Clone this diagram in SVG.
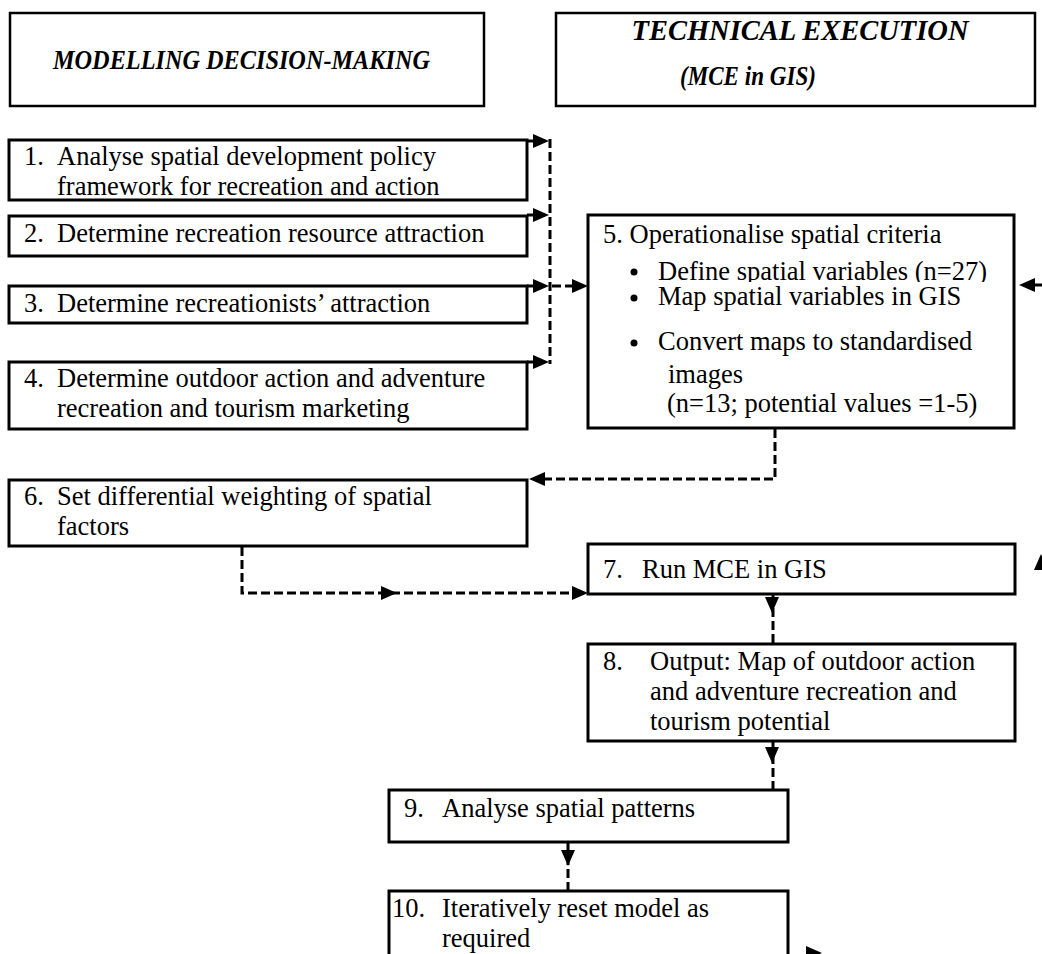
<svg xmlns="http://www.w3.org/2000/svg" xmlns:xlink="http://www.w3.org/1999/xlink" width="1042" height="954" viewBox="0 0 1042 954">
<style>
.box{fill:#fff;stroke:#000;stroke-width:3}
.hbox{fill:#fff;stroke:#000;stroke-width:2.5}
.h{font-family:"Liberation Serif","Times New Roman",serif;font-weight:bold;font-style:italic;font-size:28px;fill:#000}
.t{font-family:"Liberation Serif","Times New Roman",serif;font-size:26.5px;fill:#000}
.solid{fill:none;stroke:#000;stroke-width:3}
.dash{fill:none;stroke:#000;stroke-width:3;stroke-dasharray:9 4}
</style>
<defs>
<path id="ah" d="M0,0 L-16,-7 L-16,7 Z"/>
<clipPath id="clip5"><rect x="590" y="255" width="420" height="27"/></clipPath>
</defs>
<rect width="1042" height="954" fill="#fff"/>

<g id="header-left">
<rect class="hbox" x="10" y="13" width="474" height="93"/>
<text class="h" x="53" y="69" textLength="377" lengthAdjust="spacingAndGlyphs">MODELLING DECISION-MAKING</text>
</g>
<g id="header-right">
<rect class="hbox" x="556" y="13" width="479" height="93"/>
<text class="h" x="800" y="40" text-anchor="middle" style="font-size:28.5px">TECHNICAL EXECUTION</text>
<text class="h" x="680" y="85" textLength="136" lengthAdjust="spacingAndGlyphs">(MCE in GIS)</text>
</g>

<g id="node1">
<rect class="box" x="9" y="140" width="518" height="60"/>
<text class="t" x="24" y="165">1.</text>
<text class="t" x="57" y="165">Analyse spatial development policy</text>
<text class="t" x="57" y="195">framework for recreation and action</text>
</g>
<g id="node2">
<rect class="box" x="9" y="216" width="518" height="40"/>
<text class="t" x="24" y="242">2.</text>
<text class="t" x="57" y="242">Determine recreation resource attraction</text>
</g>
<g id="node3">
<rect class="box" x="9" y="286" width="518" height="37"/>
<text class="t" x="24" y="312">3.</text>
<text class="t" x="57" y="312">Determine recreationists’ attraction</text>
</g>
<g id="node4">
<rect class="box" x="9" y="362" width="518" height="67"/>
<text class="t" x="24" y="387">4.</text>
<text class="t" x="57" y="387">Determine outdoor action and adventure</text>
<text class="t" x="57" y="417">recreation and tourism marketing</text>
</g>
<g id="node5">
<rect class="box" x="588" y="215" width="426" height="213"/>
<text class="t" x="603" y="243">5. Operationalise spatial criteria</text>
<circle cx="634" cy="272" r="3.5"/>
<text class="t" x="658" y="280" clip-path="url(#clip5)">Define spatial variables (n=27)</text>
<circle cx="634" cy="298" r="3.5"/>
<text class="t" x="658" y="305">Map spatial variables in GIS</text>
<circle cx="634" cy="343" r="3.5"/>
<text class="t" x="658" y="350">Convert maps to standardised</text>
<text class="t" x="668" y="383">images</text>
<text class="t" x="667" y="412">(n=13; potential values =1-5)</text>
</g>
<g id="node6">
<rect class="box" x="9" y="480" width="518" height="66"/>
<text class="t" x="24" y="505">6.</text>
<text class="t" x="57" y="505">Set differential weighting of spatial</text>
<text class="t" x="57" y="535">factors</text>
</g>
<g id="node7">
<rect class="box" x="588" y="544" width="427" height="50"/>
<text class="t" x="603" y="578">7.</text>
<text class="t" x="642" y="578">Run MCE in GIS</text>
</g>
<g id="node8">
<rect class="box" x="588" y="644" width="427" height="97"/>
<text class="t" x="603" y="670">8.</text>
<text class="t" x="650" y="670">Output: Map of outdoor action</text>
<text class="t" x="650" y="700">and adventure recreation and</text>
<text class="t" x="650" y="730">tourism potential</text>
</g>
<g id="node9">
<rect class="box" x="389" y="790" width="399" height="52"/>
<text class="t" x="404" y="817">9.</text>
<text class="t" x="442" y="817">Analyse spatial patterns</text>
</g>
<g id="node10">
<rect class="box" x="389" y="891" width="399" height="80"/>
<text class="t" x="392" y="917">10.</text>
<text class="t" x="442" y="917">Iteratively reset model as</text>
<text class="t" x="442" y="947">required</text>
</g>

<g id="connectors">
<path class="solid" d="M527,141 H536"/>
<use xlink:href="#ah" transform="translate(549,141)"/>
<path class="solid" d="M527,215 H536"/>
<use xlink:href="#ah" transform="translate(549,215)"/>
<path class="solid" d="M527,286 H536"/>
<use xlink:href="#ah" transform="translate(549,286)"/>
<path class="solid" d="M527,362 H536"/>
<use xlink:href="#ah" transform="translate(549,362)"/>
<path class="dash" d="M550,139 V364"/>
<path class="dash" d="M552,286 H574"/>
<use xlink:href="#ah" transform="translate(588,286)"/>
<path class="solid" d="M1042,285 H1032"/>
<use xlink:href="#ah" transform="translate(1019,285) rotate(180)"/>
<use xlink:href="#ah" transform="translate(1041,554) rotate(-90)"/>
<path class="dash" d="M775,429 V479 H544"/>
<use xlink:href="#ah" transform="translate(529,479) rotate(180)"/>
<path class="dash" d="M242,547 V593 H574"/>
<use xlink:href="#ah" transform="translate(397,593)"/>
<use xlink:href="#ah" transform="translate(588,593)"/>
<path class="dash" d="M773,595 V644"/>
<use xlink:href="#ah" transform="translate(772,613) rotate(90)"/>
<path class="dash" d="M773,742 V790"/>
<use xlink:href="#ah" transform="translate(772,763) rotate(90)"/>
<path class="dash" d="M568,843 V891"/>
<use xlink:href="#ah" transform="translate(568,866) rotate(90)"/>
<use xlink:href="#ah" transform="translate(822,953)"/>
</g>
</svg>
